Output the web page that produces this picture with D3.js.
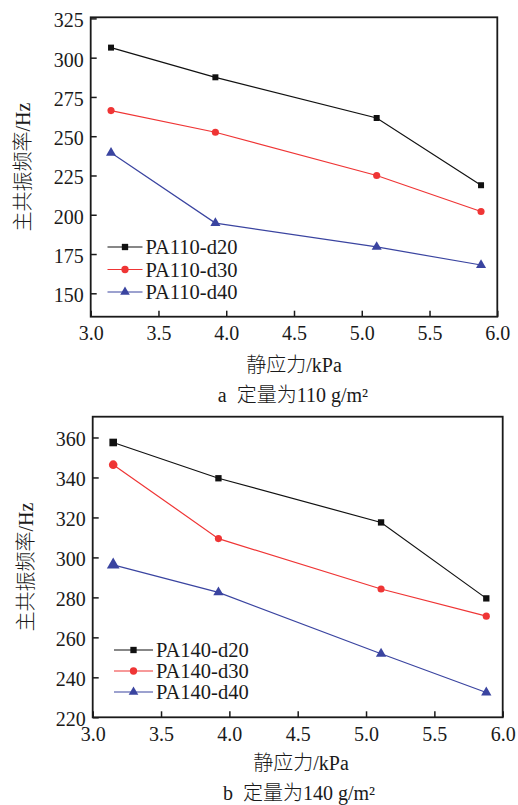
<!DOCTYPE html>
<html><head><meta charset="utf-8">
<script src="https://cdn.jsdelivr.net/npm/d3@7"></script>
<style>
html,body{margin:0;padding:0;background:#fff;}
svg text{fill:#1a1a1a;white-space:pre;}
.lat{font-family:"Liberation Serif";}
.cjk{font-family:"Noto Sans CJK SC";font-weight:300;}
</style></head>
<body>
<svg id="c" width="518" height="805"></svg>
<script>
// ---- data ----
const stress = [3.15, 3.92, 5.11, 5.88];
const xTicks = [3.0, 3.5, 4.0, 4.5, 5.0, 5.5, 6.0];

const namesA = ["PA110-d20", "PA110-d30", "PA110-d40"];
const a_d20 = [306.4, 287.5, 261.6, 218.8];
const a_d30 = [266.3, 252.5, 225.0, 202.1];
const a_d40 = [239.4, 194.7, 179.5, 168.0];
const yTicksA = [150, 175, 200, 225, 250, 275, 300, 325];

const namesB = ["PA140-d20", "PA140-d30", "PA140-d40"];
const b_d20 = [357.5, 339.6, 317.5, 279.5];
const b_d30 = [346.4, 309.4, 284.2, 270.6];
const b_d40 = [296.3, 282.5, 251.8, 232.4];
const yTicksB = [220, 240, 260, 280, 300, 320, 340, 360];

const colors = ["#111111", "#ef3535", "#3a44a0"];
const shapes = [d3.symbolSquare, d3.symbolCircle, d3.symbolTriangle];

const svg = d3.select("#c");

// text made of runs: [string, isCJK]
function mixed(sel, parts) {
  parts.forEach(p => sel.append("tspan").attr("class", p[1] ? "cjk" : "lat").text(p[0]));
  return sel;
}

function panel(o) {
  const g = svg.append("g");
  const x = d3.scaleLinear().domain([3.0, 6.0]).range([o.left, o.right]);
  const y = d3.scaleLinear().domain(o.yDomain).range([o.bottom, o.top]);

  const xa = g.append("g").attr("transform", `translate(0,${o.bottom})`)
    .call(d3.axisBottom(x).tickValues(xTicks).tickFormat(d3.format(".1f")).tickSizeInner(-6).tickSizeOuter(0).tickPadding(9));
  const ya = g.append("g").attr("transform", `translate(${o.left},0)`)
    .call(d3.axisLeft(y).tickValues(o.yTicks).tickFormat(d3.format("d")).tickSizeInner(-6).tickSizeOuter(0).tickPadding(7));
  [xa, ya].forEach(a => {
    a.attr("font-family", null).attr("font-size", null);
    a.select(".domain").remove();
    a.selectAll(".tick line").attr("stroke", "#1a1a1a").attr("stroke-width", 1.5);
    a.selectAll(".tick text").attr("class", "lat").style("font-size", "20px").style("fill", "#1a1a1a");
  });
  ya.selectAll(".tick text").attr("dy", "0.42em");
  xa.selectAll(".tick text").attr("dy", "0.72em");

  g.append("rect").attr("x", o.left).attr("y", o.top)
    .attr("width", o.right - o.left).attr("height", o.bottom - o.top)
    .attr("fill", "none").attr("stroke", "#1a1a1a").attr("stroke-width", 1.8);

  const line = d3.line().x((d, i) => x(stress[i])).y(d => y(d));
  o.series.forEach((s, k) => {
    g.append("path").datum(s).attr("d", line).attr("fill", "none")
      .attr("stroke", colors[k]).attr("stroke-width", 1.2);
    g.selectAll(null).data(s).enter().append("path")
      .attr("d", (d, i) => d3.symbol().type(shapes[k]).size(o.msize(k, i))())
      .attr("transform", (d, i) => `translate(${x(stress[i])},${y(d)})`)
      .attr("fill", colors[k]);
  });

  o.names.forEach((n, k) => {
    const ly = o.legY + k * o.legDy;
    g.append("line").attr("x1", o.legX).attr("x2", o.legX + o.legLen)
      .attr("y1", ly).attr("y2", ly).attr("stroke", colors[k]).attr("stroke-width", 1.2);
    g.append("path").attr("d", d3.symbol().type(shapes[k]).size(k === 1 ? 42 : 40)())
      .attr("transform", `translate(${o.legX + o.legLen / 2},${ly})`).attr("fill", colors[k]);
    g.append("text").attr("class", "lat").attr("x", o.legX + o.legLen + 3).attr("y", ly).attr("dy", "0.35em")
      .style("font-size", "20.5px").text(n);
  });

  mixed(g.append("text").attr("transform", `translate(${o.yTitleX},${(o.top + o.bottom) / 2}) rotate(-90)`)
    .attr("text-anchor", "middle").attr("dy", "0.35em").style("font-size", "20px"),
    [["主共振频率", true], ["/Hz", false]]);
  mixed(g.append("text").attr("x", o.xTitleX).attr("y", o.xTitleY).attr("dy", "0.35em")
    .attr("text-anchor", "middle").style("font-size", "20px"),
    [["静应力", true], ["/kPa", false]]);
  mixed(g.append("text").attr("x", o.capX).attr("y", o.capY).attr("dy", "0.35em")
    .attr("text-anchor", "middle").style("font-size", "20px"), o.caption);
}

panel({
  left: 90.7, right: 497.3, top: 17.3, bottom: 316.7,
  yDomain: [135.1, 325.7], yTicks: yTicksA,
  series: [a_d20, a_d30, a_d40], names: namesA,
  msize: (k, i) => k === 2 ? 44 : (k === 1 ? 40 : 36),
  legX: 107.5, legLen: 35, legY: 247, legDy: 22.5,
  yTitleX: 22.5, xTitleX: 294, xTitleY: 365, capX: 293, capY: 395,
  caption: [["a  ", false], ["定量为", true], ["110 g/m²", false]]
});

panel({
  left: 92.7, right: 502.7, top: 416.7, bottom: 717.3,
  yDomain: [220, 370.4], yTicks: yTicksB,
  series: [b_d20, b_d30, b_d40], names: namesB,
  msize: (k, i) => i === 0 ? (k === 2 ? 70 : 58) : (k === 2 ? 46 : 40),
  legX: 114, legLen: 39, legY: 650, legDy: 21,
  yTitleX: 26, xTitleX: 301, xTitleY: 763, capX: 299, capY: 792.5,
  caption: [["b  ", false], ["定量为", true], ["140 g/m²", false]]
});
</script>
</body></html>
